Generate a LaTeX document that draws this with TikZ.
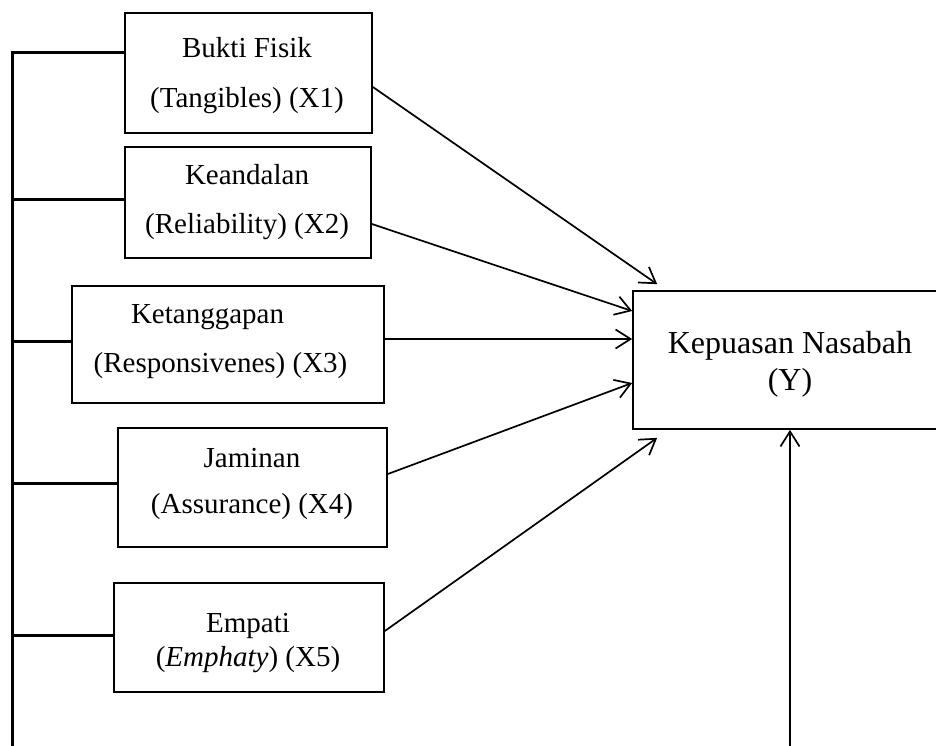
\documentclass[tikz,border=0pt]{standalone}
\usepackage{fontspec}
\setmainfont{Liberation Serif}
\usetikzlibrary{arrows.meta}
\begin{document}
\begin{tikzpicture}[x=1pt,y=-1pt,
  box/.style={draw=black,line width=1.7pt,rectangle,inner sep=0pt},
  lbl/.style={anchor=base,inner sep=0pt,font=\fontsize{29}{35}\selectfont},
  ylbl/.style={anchor=base,inner sep=0pt,font=\fontsize{32}{38}\selectfont},
  conn/.style={line width=1.7pt,-{Straight Barb[length=15pt,width=19pt,line width=1.7pt]}},
  bus/.style={line width=3pt}]
\useasboundingbox (0,0) rectangle (936,746);
\clip (0,0) rectangle (936,746);
\fill[white] (0,0) rectangle (936,746);
% boxes
\node[box,minimum width=247pt,minimum height=120pt] (x1) at (248.5,73) {};
\node[box,minimum width=246pt,minimum height=111pt] (x2) at (248,202.5) {};
\node[box,minimum width=312pt,minimum height=117pt] (x3) at (228,344.5) {};
\node[box,minimum width=269pt,minimum height=119pt] (x4) at (252.5,487.5) {};
\node[box,minimum width=270pt,minimum height=109pt] (x5) at (249,637.5) {};
\node[box,minimum width=314pt,minimum height=138pt] (y) at (790,360) {};
% labels
\node[lbl] (t1a) at (247,58) {Bukti Fisik};
\node[lbl] (t1b) at (247,108) {(Tangibles) (X1)};
\node[lbl] (t2a) at (247,185) {Keandalan};
\node[lbl] (t2b) at (247,233) {(Reliability) (X2)};
\node[lbl] (t3a) at (207.5,323) {Ketanggapan};
\node[lbl] (t3b) at (220.5,372) {(Responsivenes) (X3)};
\node[lbl] (t4a) at (252,467) {Jaminan};
\node[lbl] (t4b) at (252,513) {(Assurance) (X4)};
\node[lbl] (t5a) at (248,632) {Empati};
\node[lbl] (t5b) at (248,666) {(\textit{Emphaty}) (X5)};
\node[ylbl] (tya) at (790,353) {Kepuasan Nasabah};
\node[ylbl] (tyb) at (790,390) {(Y)};
% bus
\coordinate (b1) at (12,53);
\coordinate (b2) at (12,199);
\coordinate (b3) at (12,341);
\coordinate (b4) at (12,483);
\coordinate (b5) at (12,635);
\coordinate (bb) at (12,750);
\draw[bus] (bb) -- (b1) -- (b1 -| x1.west);
\draw[bus] (b2) -- (b2 -| x2.west);
\draw[bus] (b3) -- (b3 -| x3.west);
\draw[bus] (b4) -- (b4 -| x4.west);
\draw[bus] (b5) -- (b5 -| x5.west);
% arrows
\draw[conn] ([yshift=-14pt]x1.east) -- ([xshift=25pt,yshift=6pt]y.north west);
\draw[conn] ([yshift=-21.5pt]x2.east) -- ([yshift=49pt]y.west);
\draw[conn] ([yshift=5.5pt]x3.east) -- ([yshift=21pt]y.west);
\draw[conn] ([yshift=13.5pt]x4.east) -- ([yshift=-23pt]y.west);
\draw[conn] ([yshift=6.5pt]x5.east) -- ([xshift=25pt,yshift=-8pt]y.south west);
\coordinate (yb) at (790,750);
\draw[conn] (yb) -- (y.south);
\end{tikzpicture}
\end{document}
